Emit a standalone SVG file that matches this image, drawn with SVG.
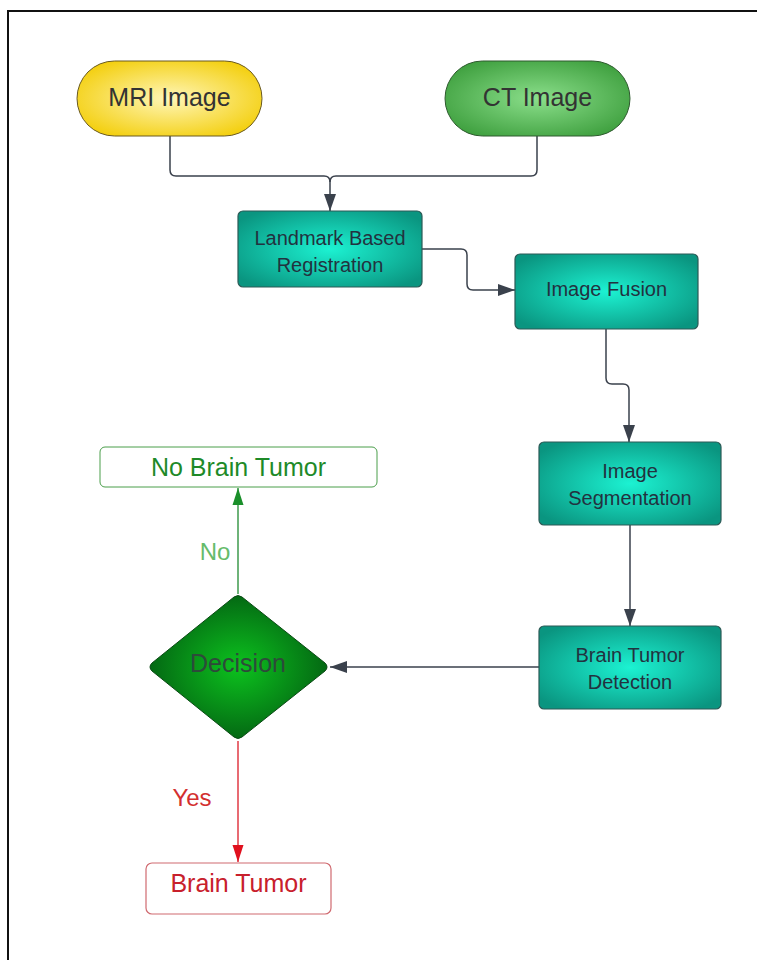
<svg xmlns="http://www.w3.org/2000/svg" width="757" height="960" viewBox="0 0 757 960">
<defs>
<radialGradient id="gYellow" cx="50%" cy="50%" r="60%">
<stop offset="0" stop-color="#FFF6B8"/><stop offset="1" stop-color="#F3CE0A"/>
</radialGradient>
<radialGradient id="gGreen" cx="50%" cy="50%" r="60%">
<stop offset="0" stop-color="#8BDF8B"/><stop offset="1" stop-color="#3E9F3E"/>
</radialGradient>
<radialGradient id="gTeal" cx="50%" cy="50%" r="62%">
<stop offset="0" stop-color="#1CF2D2"/><stop offset="1" stop-color="#0A9580"/>
</radialGradient>
<radialGradient id="gDec" cx="50%" cy="50%" r="55%">
<stop offset="0" stop-color="#0CC21E"/><stop offset="1" stop-color="#036012"/>
</radialGradient>
<marker id="aDark" viewBox="0 0 17 14" refX="17" refY="7" markerWidth="17" markerHeight="14" markerUnits="userSpaceOnUse" orient="auto">
<path d="M0 1 L17 7 L0 13 Z" fill="#3A414C"/>
</marker>
<marker id="aGreen" viewBox="0 0 17 14" refX="17" refY="7" markerWidth="17" markerHeight="14" markerUnits="userSpaceOnUse" orient="auto">
<path d="M0 1.5 L17 7 L0 12.5 Z" fill="#1A8F2A"/>
</marker>
<marker id="aRed" viewBox="0 0 17 14" refX="17" refY="7" markerWidth="17" markerHeight="14" markerUnits="userSpaceOnUse" orient="auto">
<path d="M0 1.5 L17 7 L0 12.5 Z" fill="#E0101E"/>
</marker>
</defs>
<style>
text{font-family:"Liberation Sans",Arial,sans-serif;text-anchor:middle;dominant-baseline:central}
.big{font-size:25px;fill:#333333}
.box{font-size:20px;fill:#22323F}
.teal{fill:url(#gTeal);stroke:#2C5A56;stroke-width:1.2}
.conn{fill:none;stroke:#3A414C;stroke-width:1.5}
</style>
<rect width="757" height="960" fill="#FFFFFF"/>
<path d="M8 960 V11 H757" fill="none" stroke="#111111" stroke-width="2"/>

<g id="connectors">
<path class="conn" d="M170 135 V170 Q170 176 176 176 H324 Q330 176 330 182 V211" marker-end="url(#aDark)"/>
<path class="conn" d="M537 135 V170 Q537 176 531 176 H336 Q330 176 330 182"/>
<path class="conn" d="M422 249 H461 Q467 249 467 255 V284 Q467 290 473 290 H515" marker-end="url(#aDark)"/>
<path class="conn" d="M606 329 V378 Q606 384 612 384 H623 Q629 384 629 390 V442" marker-end="url(#aDark)"/>
<path class="conn" d="M630 525 V626" marker-end="url(#aDark)"/>
<path class="conn" d="M539 667 H330" marker-end="url(#aDark)"/>
<path d="M238 594 V488" fill="none" stroke="#3E9A4C" stroke-width="1.5" marker-end="url(#aGreen)"/>
<path d="M238 741 V862" fill="none" stroke="#E03A44" stroke-width="1.5" marker-end="url(#aRed)"/>
<text x="215" y="551" style="font-size:24px;fill:#66BB6A">No</text>
<text x="192" y="797" style="font-size:24px;fill:#D32F2F">Yes</text>
</g>

<g id="mri">
<rect x="77" y="61" width="185" height="75" rx="37.5" fill="url(#gYellow)" stroke="#6A5A20" stroke-width="1"/>
<text class="big" x="169.5" y="97">MRI Image</text>
</g>
<g id="ct">
<rect x="445" y="61" width="185" height="75" rx="37.5" fill="url(#gGreen)" stroke="#2E5A2E" stroke-width="1"/>
<text class="big" x="537.5" y="97">CT Image</text>
</g>
<g id="landmark">
<rect class="teal" x="238" y="211" width="184" height="76" rx="5"/>
<text class="box" x="330" y="238">Landmark Based</text>
<text class="box" x="330" y="265">Registration</text>
</g>
<g id="fusion">
<rect class="teal" x="515" y="254" width="183" height="75" rx="5"/>
<text class="box" x="606.5" y="289">Image Fusion</text>
</g>
<g id="segmentation">
<rect class="teal" x="539" y="442" width="182" height="83" rx="5"/>
<text class="box" x="630" y="471">Image</text>
<text class="box" x="630" y="498">Segmentation</text>
</g>
<g id="detection">
<rect class="teal" x="539" y="626" width="182" height="83" rx="5"/>
<text class="box" x="630" y="655">Brain Tumor</text>
<text class="box" x="630" y="682">Detection</text>
</g>
<g id="decision">
<path d="M234 597 Q238 594 242 597 L325 663 Q329 667 325 671 L242 737 Q238 740 234 737 L152 671 Q148 667 152 663 Z" fill="url(#gDec)" stroke="#0A4A14" stroke-width="1"/>
<text x="238" y="663" style="font-size:25px;fill:#2E4A3A">Decision</text>
</g>
<g id="no-tumor">
<rect x="100" y="447" width="277" height="40" rx="5" fill="#FFFFFF" stroke="#4A9E4A" stroke-width="1"/>
<text x="238.5" y="467" style="font-size:25px;fill:#1E8A28">No Brain Tumor</text>
</g>
<g id="tumor">
<rect x="146" y="863" width="185" height="51" rx="6" fill="#FFFFFF" stroke="#D06A70" stroke-width="1.2"/>
<text x="238.5" y="883" style="font-size:25px;fill:#C8202C">Brain Tumor</text>
</g>
</svg>
